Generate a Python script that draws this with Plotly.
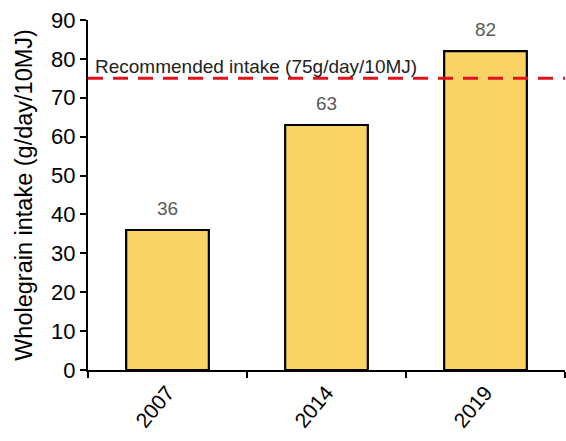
import plotly.graph_objects as go

# Wholegrain intake by survey year
years = ["2007", "2014", "2019"]
intake = [36, 63, 82]
recommended = 75
rec_label = "Recommended intake (75g/day/10MJ)"

FONT = "Liberation Sans, Arial, sans-serif"

fig = go.Figure()
fig.add_trace(go.Bar(
    x=years, y=intake,
    width=0.52,
    marker=dict(color="#F9D465", line=dict(color="black", width=2.2)),
    hoverinfo="skip",
))

# value labels above each bar (category index as x position)
for i, v in enumerate(intake):
    fig.add_annotation(x=i, y=v, text=str(v), showarrow=False,
                       yanchor="middle", yshift=22,
                       font=dict(family=FONT, size=19, color="#595959"))

# recommended level
fig.add_shape(type="line", xref="paper", x0=0, x1=1, yref="y",
              y0=recommended, y1=recommended,
              line=dict(color="#E0121B", width=3, dash="15px,10px"))
fig.add_annotation(xref="paper", x=0.01, xanchor="left",
                   y=recommended, yanchor="middle", yshift=12,
                   text=rec_label, showarrow=False,
                   font=dict(family=FONT, size=19, color="#222222"))

fig.update_layout(
    width=566, height=441,
    margin=dict(l=88, r=1, t=20, b=71),
    paper_bgcolor="white", plot_bgcolor="white",
    showlegend=False,
    font=dict(family=FONT, color="black"),
    xaxis=dict(
        type="category", range=[-0.5, 2.5],
        tickson="boundaries", ticks="outside", ticklen=6, tickwidth=2,
        tickcolor="black", tickangle=-50,
        showline=True, linecolor="black", linewidth=2,
        tickfont=dict(family=FONT, size=21, color="black"),
        showgrid=False,
    ),
    yaxis=dict(
        range=[0, 90], dtick=10, ticks="outside", ticklen=6, tickwidth=2,
        tickcolor="black",
        showline=True, linecolor="black", linewidth=2,
        showgrid=False, zeroline=False,
        tickfont=dict(family=FONT, size=22, color="black"),
        title=dict(text="Wholegrain intake (g/day/10MJ)",
                   font=dict(family=FONT, size=23.5, color="black"),
                   standoff=12),
    ),
)

fig.write_html("out.html")
